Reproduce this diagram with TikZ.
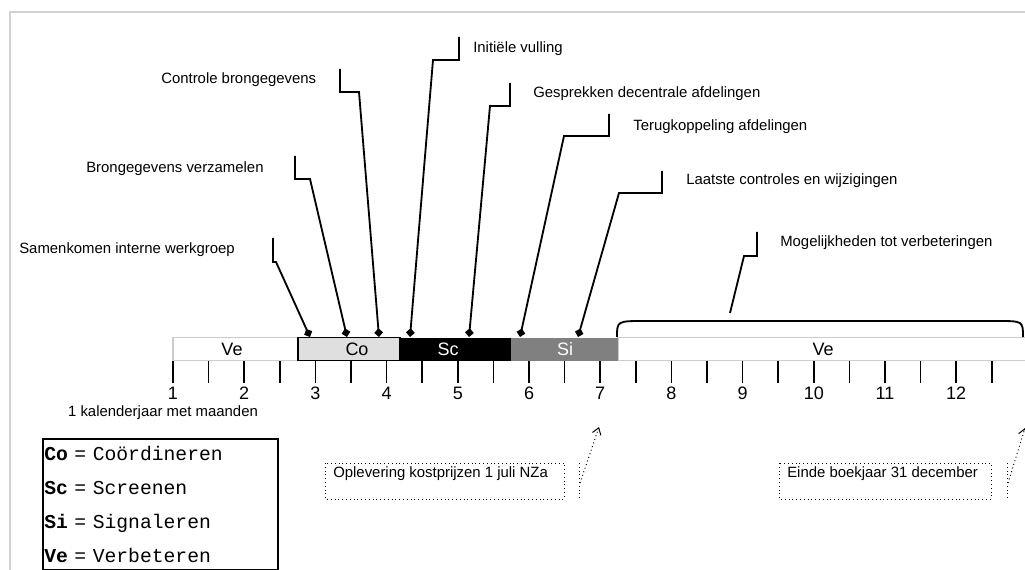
\documentclass[tikz,border=0pt]{standalone}
\usepackage{fontspec}
\setmainfont{Liberation Sans}
\setmonofont{Liberation Mono}
\usetikzlibrary{arrows.meta,calc}

\begin{document}
\begin{tikzpicture}[
  x=0.025cm, y=-0.025cm,
  lbl/.style={anchor=west, inner sep=0pt, font=\fontsize{10.6}{12}\selectfont},
  bartext/.style={inner sep=0pt, font=\fontsize{12.8}{14}\selectfont},
  callout/.style={line width=1.3pt, -{Diamond[length=2.2mm, width=2.2mm]}},
  tick/.style={line width=1.2pt},
  note/.style={line width=0.7pt, dotted},
  noteline/.style={line width=0.7pt, dotted, -{Straight Barb[length=1.6mm, width=2.2mm]}},
  vebox/.style={fill=white, draw=gray!40, line width=0.8pt}
]
\useasboundingbox (0,0) rectangle (1025,570);
\draw[gray!35, line width=0.8pt] (10,570) -- (10,12) -- (1025,12);

\node[lbl] (samen) at (19,250) {Samenkomen interne werkgroep};
\node[lbl] (verzamel) at (86,169) {Brongegevens verzamelen};
\node[lbl] (controle) at (161,80) {Controle brongegevens};
\node[lbl] (vulling) at (473,49) {Initiële vulling};
\node[lbl] (gesprek) at (533,94) {Gesprekken decentrale afdelingen};
\node[lbl] (terug) at (633,127) {Terugkoppeling afdelingen};
\node[lbl] (laatste) at (686,181) {Laatste controles en wijzigingen};
\node[lbl] (mogelijk) at (780,243) {Mogelijkheden tot verbeteringen};

\coordinate (samen-t) at (273,238); \coordinate (samen-k) at (276,262); \coordinate (samen-p) at (310,337);
\coordinate (verzamel-t) at (295,156); \coordinate (verzamel-k) at (310,179); \coordinate (verzamel-p) at (347,337);
\coordinate (controle-t) at (340,69); \coordinate (controle-k) at (359,92); \coordinate (controle-p) at (379,337);
\coordinate (vulling-t) at (459,37); \coordinate (vulling-k) at (433,60); \coordinate (vulling-p) at (410,337);
\coordinate (gesprek-t) at (510,83); \coordinate (gesprek-k) at (490,106); \coordinate (gesprek-p) at (469,337);
\coordinate (terug-t) at (609,114); \coordinate (terug-k) at (564,136); \coordinate (terug-p) at (520,337);
\coordinate (laatste-t) at (662,171); \coordinate (laatste-k) at (619,193); \coordinate (laatste-p) at (578,337);
\coordinate (mogelijk-t) at (757,232); \coordinate (mogelijk-k) at (744,256); \coordinate (mogelijk-p) at (730,313);

\draw[vebox] (173,337.5) rectangle (298,360.5);
\draw[vebox] (618,337.5) rectangle (1030,360.5);
\fill[gray] (511,337.5) rectangle (618,360.5);
\fill[black] (400,337.5) rectangle (511,360.5);
\draw[fill=gray!25, draw=black, line width=1pt] (298,337.5) rectangle (400,360.5);

\node[bartext] (ve1) at (232,349) {Ve};
\node[bartext] (co) at (357,349) {Co};
\node[bartext, text=white] (sc) at (448,349) {Sc};
\node[bartext, text=white] (si) at (565,349) {Si};
\node[bartext] (ve2) at (823,349) {Ve};

\foreach \n in {samen,verzamel,controle,vulling,gesprek,terug,laatste}
  \draw[callout] (\n-t) |- (\n-k) -- (\n-p);
\draw[callout, -] (mogelijk-t) |- (mogelijk-k) -- (mogelijk-p);
\draw[line width=1.3pt] (617,337) .. controls (617,321) .. (645,321) -- (997,321) .. controls (1023,321) .. (1023,337);

\foreach \i in {0,...,23}
  \draw[tick] ({173+35.6*\i},361) -- ++(0,22);
\foreach \m in {1,...,12}
  \node[bartext] (m\m) at ({173+71.2*(\m-1)},393) {\m};
\node[inner sep=0pt, font=\fontsize{10.6}{12}\selectfont] (jaar) at (163,413) {1 kalenderjaar met maanden};

\node[draw, line width=1.2pt, anchor=north west, minimum height=3.275cm, inner sep=1pt,
  text width=5.8cm, align=left, font=\ttfamily\fontsize{14}{24.2}\selectfont] (legenda) at (42,438)
  {\textbf{Co} = Coördineren\\ \textbf{Sc} = Screenen\\ \textbf{Si} = Signaleren\\ \textbf{Ve} = Verbeteren};

\draw[note] (325,463) rectangle (564,499);
\node[lbl] (oplev) at (333,474) {Oplevering kostprijzen 1 juli NZa};
\draw[note] (579,463) -- (579,498);
\coordinate (oplev-v) at (580,483);
\coordinate (juli) at (599,427);
\draw[noteline] (oplev-v) -- (juli);

\draw[note] (779,463) rectangle (991,499);
\node[lbl] (einde) at (787,474) {Einde boekjaar 31 december};
\draw[note] (1007,463) -- (1007,498);
\coordinate (einde-v) at (1008,483);
\coordinate (dec) at (1025,428);
\draw[noteline] (einde-v) -- (dec);
\end{tikzpicture}
\end{document}
